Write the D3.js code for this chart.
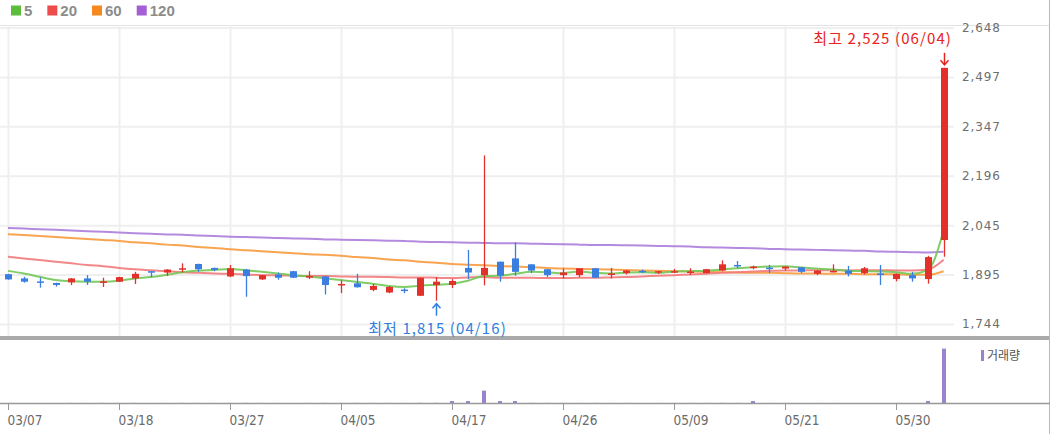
<!DOCTYPE html>
<html><head><meta charset="utf-8">
<script src="https://cdn.jsdelivr.net/npm/d3@7"></script>
<style>
body{margin:0;background:#fff;}
svg{display:block;}
</style>
</head><body>
<svg id="chart" width="1050" height="434"></svg>
<script>
const dates = ["03/07","03/08","03/11","03/12","03/13","03/14","03/15","03/18","03/19","03/20","03/21","03/22","03/25","03/26","03/27","03/28","03/29","04/01","04/02","04/03","04/04","04/05","04/08","04/09","04/11","04/12","04/15","04/16","04/17","04/18","04/19","04/22","04/23","04/24","04/25","04/26","04/29","04/30","05/02","05/03","05/07","05/08","05/09","05/10","05/13","05/14","05/16","05/17","05/20","05/21","05/22","05/23","05/24","05/27","05/28","05/29","05/30","05/31","06/03","06/04"];
const open  = [1896,1883,1874,1869,1871,1883,1872,1873,1883,1905,1901,1912,1927,1915,1889,1910,1880,1895,1905,1887,1889,1863,1868,1848,1840,1849,1830,1863,1863,1915,1893,1934,1944,1926,1911,1893,1893,1914,1896,1899,1906,1901,1903,1901,1899,1907,1924,1917,1916,1913,1917,1897,1904,1907,1899,1898,1881,1893,1881,2000];
const high  = [1897,1888,1886,1870,1884,1893,1885,1888,1903,1905,1911,1929,1928,1916,1924,1912,1894,1901,1906,1905,1891,1877,1897,1866,1860,1853,1885,1887,1881,1970,2258,1934,1993,1926,1911,1913,1914,1915,1915,1908,1910,1906,1912,1914,1912,1938,1936,1922,1924,1920,1918,1908,1926,1921,1918,1924,1898,1903,1952,2525];
const low   = [1879,1870,1855,1858,1863,1863,1857,1872,1866,1887,1891,1901,1903,1905,1887,1827,1878,1879,1884,1881,1834,1838,1855,1844,1838,1838,1829,1815,1854,1881,1862,1873,1891,1899,1887,1883,1887,1884,1883,1895,1899,1897,1899,1894,1898,1905,1914,1911,1899,1907,1899,1893,1901,1889,1895,1863,1874,1873,1867,1949];
const close = [1880,1873,1872,1863,1883,1873,1874,1887,1897,1903,1910,1914,1911,1909,1914,1890,1893,1885,1885,1890,1863,1866,1856,1860,1857,1847,1885,1873,1875,1901,1915,1891,1903,1907,1893,1901,1914,1885,1898,1907,1904,1905,1905,1904,1911,1926,1923,1919,1915,1919,1903,1907,1906,1897,1914,1896,1897,1883,1948,2525];
const volume = [1800,1500,2100,1200,1700,1400,1900,1600,2200,1300,1500,1800,1400,1200,2000,2300,1500,1300,1100,1600,2100,1700,1900,1400,1500,1200,2600,3100,45000,45000,285000,45000,45000,2400,1800,1500,1300,1700,1200,1400,1100,1300,1200,1500,1600,2100,1800,45000,1500,1300,1200,1400,1600,1300,1500,2200,1900,1700,45000,1250000];
const ma5   = [1906,1898,1888,1878,1874,1873,1873,1876,1883,1887,1894,1902,1907,1909,1912,1908,1903,1898,1893,1889,1883,1878,1872,1867,1860,1857,1861,1864,1867,1876,1890,1891,1897,1903,1902,1899,1904,1900,1898,1901,1902,1900,1904,1905,1906,1910,1914,1917,1919,1920,1916,1913,1910,1906,1905,1904,1902,1897,1908,2030];
const ma20  = [1949,1944,1939,1934,1929,1924,1920,1915,1911,1908,1905,1902,1900,1898,1897,1895,1893,1892,1891,1890,1890,1889,1888,1888,1887,1886,1886,1885,1884,1886,1887,1885,1885,1885,1884,1884,1885,1885,1886,1887,1889,1891,1893,1895,1897,1900,1902,1904,1906,1907,1907,1908,1908,1907,1908,1908,1907,1907,1910,1940];
const ma60  = [2018,2015,2012,2009,2006,2003,2000,1997,1993,1990,1986,1983,1979,1976,1972,1969,1966,1963,1960,1957,1955,1952,1948,1945,1941,1938,1934,1931,1927,1925,1923,1921,1919,1917,1915,1913,1912,1911,1910,1909,1907,1906,1905,1904,1903,1902,1901,1900,1900,1899,1898,1898,1897,1897,1896,1896,1895,1894,1894,1905];
const ma120 = [2037,2035,2033,2031,2029,2027,2025,2023,2021,2019,2017,2016,2014,2012,2010,2009,2008,2006,2005,2004,2002,2001,2000,1999,1998,1997,1995,1994,1993,1992,1991,1990,1990,1989,1988,1987,1986,1985,1985,1984,1983,1982,1981,1980,1978,1977,1976,1975,1973,1972,1971,1970,1969,1968,1967,1965,1964,1963,1962,1964];
const priceTicks = [1744, 1894.67, 2045.33, 2196, 2346.67, 2497.33, 2648];
const xTickDates = ["03/07","03/18","03/27","04/05","04/17","04/26","05/09","05/21","05/30"];
const maNames  = ["5","20","60","120"];
const maColors = ["#5cbd3c","#ee4b4b","#f5891d","#a35fd3"];
const maLineColors = ["#72c656","#f27a7a","#f79a3e","#ac7ddb"];
const upColor = "#e2302a", downColor = "#3a7fe0", volColor = "#9a82cf";

const svg = d3.select("#chart");
const W = 1050, H = 434;
const plotRight = 954;
const mainTop = 25, mainBottom = 336;
const volTop = 340, volBottom = 403;

const x = d3.scalePoint().domain(dates).range([8, 943.6]);
const y = d3.scaleLinear().domain([priceTicks[0], priceTicks[priceTicks.length-1]]).range([324, 27.5]);
const yv = d3.scaleLinear().domain([0, d3.max(volume) * 1.16]).range([volBottom, volTop]);

// frame lines
svg.append("line").attr("x1",0).attr("x2",W).attr("y1",mainTop+0.5).attr("y2",mainTop+0.5).attr("stroke","#e3e3e3");
svg.append("line").attr("x1",W-0.5).attr("x2",W-0.5).attr("y1",0).attr("y2",H).attr("stroke","#b8b8b8");

// grid
const gx = svg.append("g").attr("transform",`translate(0,${mainBottom})`)
  .call(d3.axisBottom(x).tickValues(xTickDates).tickSize(-(mainBottom-mainTop)).tickFormat(""));
gx.select(".domain").remove();
gx.selectAll("line").attr("stroke","#efefef").attr("stroke-width",2);

const gy = svg.append("g").attr("transform",`translate(${plotRight},0)`)
  .call(d3.axisLeft(y).tickValues(priceTicks).tickSize(plotRight).tickFormat(""));
gy.select(".domain").remove();
gy.selectAll("line").attr("stroke","#efefef").attr("stroke-width",2);

// right price axis labels
const ay = svg.append("g").attr("transform",`translate(958,0)`)
  .call(d3.axisRight(y).tickValues(priceTicks).tickSize(0).tickPadding(4).tickFormat(d3.format(",.0f")));
ay.select(".domain").remove();
ay.selectAll("text").attr("font-family","DejaVu Sans").attr("font-size",12).attr("letter-spacing","0.9px").attr("fill","#6e6e6e");

// panel separator
svg.append("rect").attr("x",0).attr("y",mainBottom).attr("width",W-1).attr("height",4).attr("fill","#a9a9a9");

// MA lines
const maSeries = [ma5, ma20, ma60, ma120];
const line = d3.line().x((d,i)=>x(dates[i])).y(d=>y(d)).curve(d3.curveMonotoneX);
[3,2,1,0].forEach(k=>{
  svg.append("path").datum(maSeries[k]).attr("d",line).attr("fill","none")
    .attr("stroke",maLineColors[k]).attr("stroke-width",2).attr("opacity",0.9);
});

// candles
const bw = 7;
const candles = svg.append("g").selectAll("g").data(dates).join("g");
candles.each(function(d,i){
  const g = d3.select(this);
  const c = close[i] >= open[i] ? upColor : downColor;
  const cx = Math.round(x(d)) + 0.5;
  g.append("line").attr("x1",cx).attr("x2",cx).attr("y1",y(high[i])).attr("y2",y(low[i])).attr("stroke",c).attr("stroke-width",1.3);
  const top = y(Math.max(open[i],close[i])), bot = y(Math.min(open[i],close[i]));
  g.append("rect").attr("x",cx-bw/2).attr("y",top).attr("width",bw).attr("height",Math.max(1.5,bot-top)).attr("fill",c);
});

// volume
svg.append("g").selectAll("rect").data(dates).join("rect")
  .attr("x",d=>Math.round(x(d))-2).attr("width",4)
  .attr("y",(d,i)=>yv(volume[i])).attr("height",(d,i)=>volBottom-yv(volume[i]))
  .attr("fill",volColor);

// x axis
const ax = svg.append("g").attr("transform",`translate(0,${volBottom})`)
  .call(d3.axisBottom(x).tickValues(xTickDates).tickSize(7).tickPadding(5));
ax.select(".domain").attr("d",`M0,0.5H${W}`).attr("stroke","#999").attr("stroke-width",1.5);
ax.selectAll(".tick line").attr("stroke","#999");
ax.selectAll("text").attr("text-anchor","start").attr("dx",-1).attr("font-family","'DejaVu Sans Condensed','DejaVu Sans'")
  .attr("font-size",13.5).attr("fill","#6a6a6a");

// volume legend
svg.append("rect").attr("x",981).attr("y",350).attr("width",3).attr("height",11).attr("fill",volColor);
svg.append("text").attr("x",987).attr("y",360).text("거래량").attr("font-family","Noto Sans CJK KR").attr("font-size",12).attr("fill","#555");

// MA legend
let lx = 11;
maNames.forEach((n,k)=>{
  svg.append("rect").attr("x",lx).attr("y",5.5).attr("width",10).attr("height",10).attr("fill",maColors[k]);
  const t = svg.append("text").attr("x",lx+13).attr("y",15.5).text(n)
    .attr("font-family","Liberation Sans").attr("font-weight","bold").attr("font-size",15).attr("fill","#8c8c8c");
  lx += 13 + t.node().getComputedTextLength() + 15;
});

// annotations
function arrow(cx, tipY, dir, color){
  const tail = tipY + dir*12;
  svg.append("line").attr("x1",cx).attr("x2",cx).attr("y1",tipY).attr("y2",tail).attr("stroke",color).attr("stroke-width",1.5);
  svg.append("path").attr("d",`M${cx-4},${tipY+dir*4.5}L${cx},${tipY}L${cx+4},${tipY+dir*4.5}`)
    .attr("fill","none").attr("stroke",color).attr("stroke-width",1.5);
}
const iMax = d3.maxIndex(high), iMin = d3.minIndex(low);
const fmt = d3.format(",");
// max
{
  const cx = Math.round(x(dates[iMax])) + 0.5, ty = y(high[iMax]);
  arrow(cx, ty-3, -1, "#e8221c");
  const t = svg.append("text").attr("y",ty-24).attr("text-anchor","middle")
    .text(`최고 ${fmt(high[iMax])} (${dates[iMax]})`)
    .attr("font-family","Noto Sans CJK KR").attr("font-size",15).attr("letter-spacing","1.1px").attr("fill","#e8221c");
  const w = t.node().getComputedTextLength();
  t.attr("x", Math.min(cx, 952 - w/2));
}
// min
{
  const cx = Math.round(x(dates[iMin])) + 0.5, ty = y(low[iMin]);
  arrow(cx, ty+3, 1, "#2f7fe0");
  svg.append("text").attr("x",cx+1).attr("y",ty+33).attr("text-anchor","middle")
    .text(`최저 ${fmt(low[iMin])} (${dates[iMin]})`)
    .attr("font-family","Noto Sans CJK KR").attr("font-size",15).attr("letter-spacing","1.1px").attr("fill","#2f7fe0");
}
</script>
</body></html>
